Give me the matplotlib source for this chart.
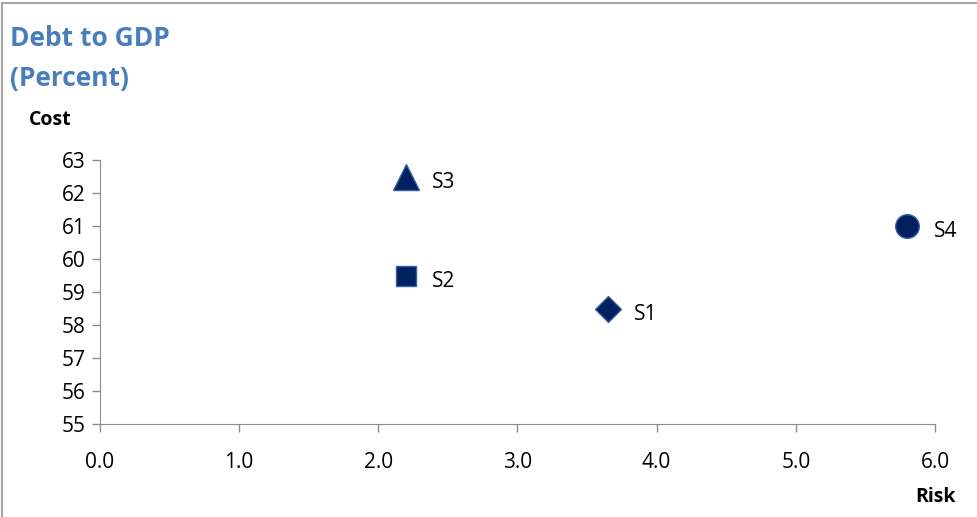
import matplotlib.pyplot as plt
from matplotlib.lines import Line2D

plt.rcParams['font.family'] = ['Open Sans', 'DejaVu Sans']

# data
names = ["S1", "S2", "S3", "S4"]
risk = [3.65, 2.2, 2.2, 5.8]
cost = [58.5, 59.5, 62.5, 61.0]
markers = ["D", "s", "^", "o"]
sizes = [13, 15, 19, 17]

fig = plt.figure(figsize=(9.78, 5.17), dpi=100)
ax = fig.add_axes([0.102, 0.180, 0.854, 0.510])

for x, y, m, s, n in zip(risk, cost, markers, sizes, names):
    ax.plot(x, y, marker=m, markersize=s, color="#002060",
            markeredgecolor="#3a5f9f", markeredgewidth=1, linestyle="none")
    ax.annotate(n, (x, y), xytext=(19, -4), textcoords="offset points",
                fontsize=15, color="black", va="center")

ax.set_xlim(0, 6)
ax.set_ylim(55, 63)
ax.set_xticks([0, 1, 2, 3, 4, 5, 6])
ax.set_xticklabels(["0.0", "1.0", "2.0", "3.0", "4.0", "5.0", "6.0"])
ax.set_yticks(range(55, 64))

for s in ["top", "right"]:
    ax.spines[s].set_visible(False)
for s in ["left", "bottom"]:
    ax.spines[s].set_color("#8c8c8c")
ax.tick_params(axis="both", direction="out", length=6, color="#8c8c8c",
               labelsize=15, width=1)
ax.tick_params(axis="x", pad=14)
ax.tick_params(axis="y", pad=4)

# titles
fig.text(0.010, 0.952, "Debt to GDP", fontsize=19, fontweight="bold",
         color="#4a7ebb", va="top")
fig.text(0.010, 0.874, "(Percent)", fontsize=19, fontweight="bold",
         color="#4a7ebb", va="top")
fig.text(0.030, 0.788, "Cost", fontsize=14, fontweight="bold", va="top")
fig.text(0.977, 0.02, "Risk", fontsize=14, fontweight="bold", ha="right",
         va="bottom")

# frame at left and top
fig.add_artist(Line2D([0.002, 0.002], [0, 0.994], color="#a6a6a6", lw=1.5,
                      transform=fig.transFigure))
fig.add_artist(Line2D([0.002, 1], [0.994, 0.994], color="#a6a6a6", lw=1.5,
                      transform=fig.transFigure))

fig.savefig("out.png", dpi=100)
